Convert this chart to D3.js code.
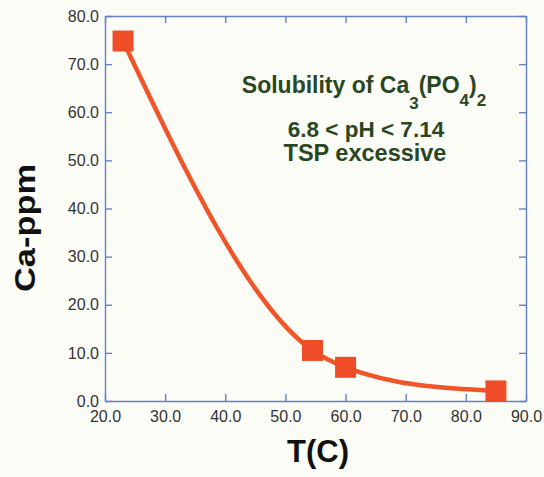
<!DOCTYPE html>
<html>
<head>
<meta charset="utf-8">
<script src="https://cdn.jsdelivr.net/npm/d3@7"></script>
<style>
  html, body { margin: 0; padding: 0; background: #fcfcf7; }
  svg { display: block; }
</style>
</head>
<body>
<svg id="chart" width="544" height="477"></svg>
<script>
// Measured solubility of Ca3(PO4)2 vs. temperature
const temperatures = [23.0, 54.5, 60.0, 85.0];
const calcium = [74.8, 10.5, 7.0, 2.1];

const xTicks = [20, 30, 40, 50, 60, 70, 80, 90];
const yTicks = [0, 10, 20, 30, 40, 50, 60, 70, 80];

const W = 544, H = 477;
const plot = { left: 105, right: 526, top: 16, bottom: 401 };

const svg = d3.select("#chart");
svg.append("rect").attr("width", W).attr("height", H).attr("fill", "#fcfcf7");

const x = d3.scaleLinear().domain([20, 90]).range([plot.left, plot.right]);
const y = d3.scaleLinear().domain([0, 80]).range([plot.bottom, plot.top]);

const axisColor = "#6680c6";
const fmt = d3.format(".1f");
const tickLen = 7;
const font = "Arial, 'Liberation Sans', Helvetica, sans-serif";

function styleAxis(g) {
  g.select(".domain").attr("stroke", axisColor).attr("stroke-width", 1.4);
  g.selectAll(".tick line").attr("stroke", axisColor).attr("stroke-width", 1.4);
  g.selectAll(".tick text")
    .attr("fill", "#333")
    .style("font-family", font)
    .style("font-size", "16px");
}

// Bottom axis with labels, ticks pointing inward
svg.append("g")
  .attr("transform", `translate(0,${plot.bottom})`)
  .call(d3.axisBottom(x).tickValues(xTicks).tickFormat(fmt).tickSizeInner(-tickLen).tickSizeOuter(0).tickPadding(10))
  .call(styleAxis);

// Left axis with labels
svg.append("g")
  .attr("transform", `translate(${plot.left},0)`)
  .call(d3.axisLeft(y).tickValues(yTicks).tickFormat(fmt).tickSizeInner(-tickLen).tickSizeOuter(0).tickPadding(6))
  .call(styleAxis);

// Top and right frame axes, ticks only
svg.append("g")
  .attr("transform", `translate(0,${plot.top})`)
  .call(d3.axisTop(x).tickValues(xTicks).tickFormat("").tickSizeInner(-tickLen).tickSizeOuter(0))
  .call(styleAxis);
svg.append("g")
  .attr("transform", `translate(${plot.right},0)`)
  .call(d3.axisRight(y).tickValues(yTicks).tickFormat("").tickSizeInner(-tickLen).tickSizeOuter(0))
  .call(styleAxis);

// Natural cubic spline y(x) through the points, emitted as Bezier segments.
// Works in screen space: linear scales keep the spline unchanged.
function curveSplineX(context) {
  let xs, ys;
  return {
    areaStart() {}, areaEnd() {},
    lineStart() { xs = []; ys = []; },
    point(px, py) { xs.push(+px); ys.push(+py); },
    lineEnd() {
      const n = xs.length;
      if (!n) return;
      context.moveTo(xs[0], ys[0]);
      if (n === 1) return;
      const h = [], s = [];
      for (let i = 0; i < n - 1; i++) {
        h.push(xs[i + 1] - xs[i]);
        s.push((ys[i + 1] - ys[i]) / h[i]);
      }
      // second derivatives, natural ends (M0 = Mn-1 = 0), tridiagonal solve
      const M = new Array(n).fill(0);
      if (n > 2) {
        const m = n - 2, a = [], b = [], c = [], r = [];
        for (let k = 0; k < m; k++) {
          const i = k + 1;
          a.push(h[i - 1]); b.push(2 * (h[i - 1] + h[i])); c.push(h[i]);
          r.push(6 * (s[i] - s[i - 1]));
        }
        for (let k = 1; k < m; k++) {
          const w = a[k] / b[k - 1];
          b[k] -= w * c[k - 1];
          r[k] -= w * r[k - 1];
        }
        M[m] = r[m - 1] / b[m - 1];
        for (let k = m - 2; k >= 0; k--) M[k + 1] = (r[k] - c[k] * M[k + 2]) / b[k];
      }
      for (let i = 0; i < n - 1; i++) {
        const d0 = s[i] - h[i] * (2 * M[i] + M[i + 1]) / 6;
        const d1 = s[i] + h[i] * (M[i] + 2 * M[i + 1]) / 6;
        context.bezierCurveTo(
          xs[i] + h[i] / 3, ys[i] + d0 * h[i] / 3,
          xs[i + 1] - h[i] / 3, ys[i + 1] - d1 * h[i] / 3,
          xs[i + 1], ys[i + 1]);
      }
    }
  };
}

// Data series
const pts = temperatures.map((t, i) => [t, calcium[i]]);

const line = d3.line()
  .x(d => x(d[0]))
  .y(d => y(d[1]))
  .curve(curveSplineX);

svg.append("path")
  .datum(pts)
  .attr("d", line)
  .attr("fill", "none")
  .attr("stroke", "#f0552a")
  .attr("stroke-width", 4.5);

const ms = 21;
svg.selectAll("rect.marker")
  .data(pts)
  .join("rect")
  .attr("class", "marker")
  .attr("x", d => x(d[0]) - ms / 2)
  .attr("y", d => y(d[1]) - ms / 2)
  .attr("width", ms)
  .attr("height", ms)
  .attr("fill", "#ee4d28");

// Axis titles
svg.append("text")
  .attr("x", 318)
  .attr("y", 462)
  .attr("text-anchor", "middle")
  .attr("fill", "#111")
  .style("font-family", font)
  .style("font-weight", "bold")
  .style("font-size", "31px")
  .text("T(C)");

svg.append("text")
  .attr("transform", "translate(35,228) rotate(-90)")
  .attr("text-anchor", "middle")
  .attr("fill", "#111")
  .style("font-family", font)
  .style("font-weight", "bold")
  .style("font-size", "30px")
  .attr("textLength", 128)
  .attr("lengthAdjust", "spacingAndGlyphs")
  .text("Ca-ppm");

// Annotation
const note = svg.append("g")
  .attr("fill", "#2a4622")
  .style("font-family", font)
  .style("font-weight", "bold");

const t1 = note.append("text")
  .attr("x", 364).attr("y", 93)
  .attr("text-anchor", "middle")
  .style("font-size", "23px");
t1.append("tspan").text("Solubility of Ca");
t1.append("tspan").attr("dy", 16).style("font-size", "17px").text("3");
t1.append("tspan").attr("dy", -16).text("(PO");
t1.append("tspan").attr("dy", 13).style("font-size", "17px").text("4");
t1.append("tspan").attr("dy", -13).text(")");
t1.append("tspan").attr("dy", 13).style("font-size", "17px").text("2");

note.append("text")
  .attr("x", 366).attr("y", 137)
  .attr("text-anchor", "middle")
  .style("font-size", "22.5px")
  .text("6.8 < pH < 7.14");

note.append("text")
  .attr("x", 365).attr("y", 161)
  .attr("text-anchor", "middle")
  .style("font-size", "23.5px")
  .text("TSP excessive");
</script>
</body>
</html>
